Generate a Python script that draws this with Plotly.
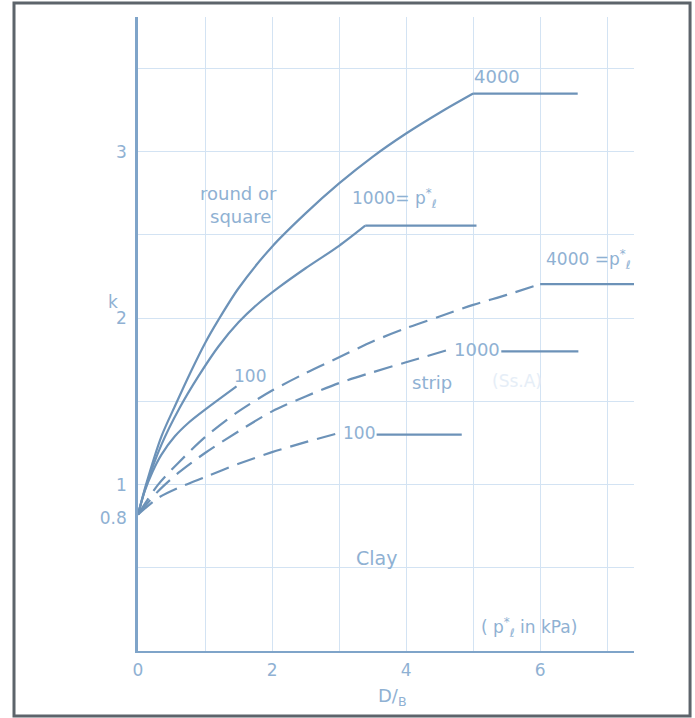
import plotly.graph_objects as go

# ---------------- data ----------------
# round or square footings (solid curves) -- D/B vs k
round_4000_x = [0, 0.12, 0.35, 0.56, 0.79, 1.0, 1.2, 1.5, 2.0, 2.5, 3.0, 3.5, 4.0, 4.5, 5.0]
round_4000_k = [0.82, 1.0, 1.29, 1.48, 1.68, 1.85, 1.99, 2.18, 2.43, 2.63, 2.81, 2.97, 3.11, 3.235, 3.35]
round_4000_flat_x = [5.0, 6.56]
round_4000_flat_k = [3.35, 3.35]

round_1000_x = [0, 0.12, 0.35, 0.62, 0.9, 1.2, 1.5, 1.8, 2.1, 2.5, 3.0, 3.39]
round_1000_k = [0.82, 0.99, 1.24, 1.46, 1.65, 1.83, 1.975, 2.09, 2.185, 2.30, 2.435, 2.556]
round_1000_flat_x = [3.39, 5.05]
round_1000_flat_k = [2.556, 2.556]

round_100_x = [0, 0.1, 0.22, 0.35, 0.55, 0.75, 1.0, 1.47]
round_100_k = [0.82, 0.96, 1.08, 1.18, 1.29, 1.37, 1.45, 1.59]

# strip footings (dashed curves)
strip_4000_x = [0, 0.3, 0.6, 1.0, 1.5, 2.0, 2.5, 3.0, 3.5, 4.0, 4.5, 5.0, 5.5, 6.0]
strip_4000_k = [0.82, 1.0, 1.13, 1.285, 1.44, 1.565, 1.67, 1.765, 1.86, 1.94, 2.01, 2.08, 2.14, 2.205]
strip_4000_flat_x = [6.0, 7.4]
strip_4000_flat_k = [2.205, 2.205]

strip_1000_x = [0, 0.3, 0.6, 1.0, 1.5, 2.0, 2.5, 3.0, 3.5, 4.0, 4.63]
strip_1000_k = [0.82, 0.96, 1.07, 1.19, 1.32, 1.44, 1.53, 1.61, 1.675, 1.735, 1.81]
strip_1000_flat_x = [5.42, 6.57]
strip_1000_flat_k = [1.80, 1.80]

strip_100_x = [0, 0.3, 0.6, 1.0, 1.5, 2.0, 2.5, 3.0]
strip_100_k = [0.82, 0.92, 0.98, 1.045, 1.125, 1.195, 1.255, 1.31]
strip_100_flat_x = [3.56, 4.83]
strip_100_flat_k = [1.30, 1.30]

x_tickvals = [0, 2, 4, 6]
x_ticktext = ["0", "2", "4", "6"]
y_tickvals = [0.8, 1, 2, 3]
y_ticktext = ["0.8", "1", "2", "3"]
x_grid = [1, 2, 3, 4, 5, 6, 7]
y_grid = [0.5, 1, 1.5, 2, 2.5, 3, 3.5]

# ---------------- style ----------------
LINE = "#6c92b8"
TEXT = "#8fb1d3"
GRID = "#d3e3f3"
AXIS = "#7fa4c9"
FONT = "DejaVu Sans, sans-serif"
DASH = "19px,9px"

fig = go.Figure()


def add(x, y, dash=None, spline=True):
    fig.add_trace(go.Scatter(
        x=x, y=y, mode="lines", hoverinfo="skip", showlegend=False,
        line=dict(color=LINE, width=2.2, dash=dash,
                  shape="spline" if spline else "linear", smoothing=0.8),
    ))


add(round_4000_x, round_4000_k)
add(round_4000_flat_x, round_4000_flat_k, spline=False)
add(round_1000_x, round_1000_k)
add(round_1000_flat_x, round_1000_flat_k, spline=False)
add(round_100_x, round_100_k)

add(strip_4000_x, strip_4000_k, dash=DASH)
add(strip_4000_flat_x, strip_4000_flat_k, spline=False)
add(strip_1000_x, strip_1000_k, dash=DASH)
add(strip_1000_flat_x, strip_1000_flat_k, spline=False)
add(strip_100_x, strip_100_k, dash=DASH)
add(strip_100_flat_x, strip_100_flat_k, spline=False)

PSTAR = "p<sup>*</sup><sub>ℓ</sub>"


def label(x, y, text, size=17, color=TEXT, xref="x", yref="y", xanchor="center"):
    fig.add_annotation(x=x, y=y, xref=xref, yref=yref, text=text, showarrow=False,
                       xanchor=xanchor, yanchor="middle",
                       font=dict(family=FONT, size=size, color=color))


label(5.35, 3.45, "4000", size=18)
label(3.82, 2.72, "1000= " + PSTAR)
label(1.50, 2.75, "round or", size=18)
label(1.53, 2.61, "square", size=18)
label(6.72, 2.35, "4000 =" + PSTAR)
label(1.67, 1.655, "100")
label(5.06, 1.81, "1000", size=18)
label(4.39, 1.615, "strip", size=18)
label(5.65, 1.62, "(Ss.A)", color="#e6eef7")
label(3.30, 1.31, "100", size=17)
label(3.56, 0.56, "Clay", size=19)
label(5.83, 0.14, "( " + PSTAR + " in kPa)", size=17)
label(-0.051, 2.1, "k", xref="paper", size=17)
label(0.513, -0.072, "D/<sub>B</sub>", xref="paper", yref="paper", size=18)

# outer frame of the figure
fig.add_shape(type="rect", xref="paper", yref="paper",
              x0=-0.25, x1=1.113, y0=-0.1025, y1=1.022,
              line=dict(color="#5d646b", width=3), fillcolor="rgba(0,0,0,0)")

fig.update_layout(
    width=695, height=718, autosize=False,
    margin=dict(l=138, r=61, t=17, b=67),
    paper_bgcolor="white", plot_bgcolor="white",
    font=dict(family=FONT, color=TEXT, size=17),
    xaxis=dict(range=[0, 7.4], tickvals=x_tickvals, ticktext=x_ticktext,
               showgrid=False, zeroline=False, showline=True, linecolor=AXIS, linewidth=2,
               ticks="", ticklabelstandoff=3, tickfont=dict(size=17, color=TEXT),
               minor=dict(tickmode="array", tickvals=x_grid, showgrid=True,
                          gridcolor=GRID, gridwidth=1.2, ticks="")),
    yaxis=dict(range=[0, 3.81], tickvals=y_tickvals, ticktext=y_ticktext,
               showgrid=False, zeroline=False, showline=True, linecolor=AXIS, linewidth=2.6,
               ticks="", ticklabelstandoff=5, tickfont=dict(size=17, color=TEXT),
               minor=dict(tickmode="array", tickvals=y_grid, showgrid=True,
                          gridcolor=GRID, gridwidth=1.2, ticks="")),
)

fig.write_html("out.html", config={"displayModeBar": False},
               post_script="document.body.style.margin='0';")
